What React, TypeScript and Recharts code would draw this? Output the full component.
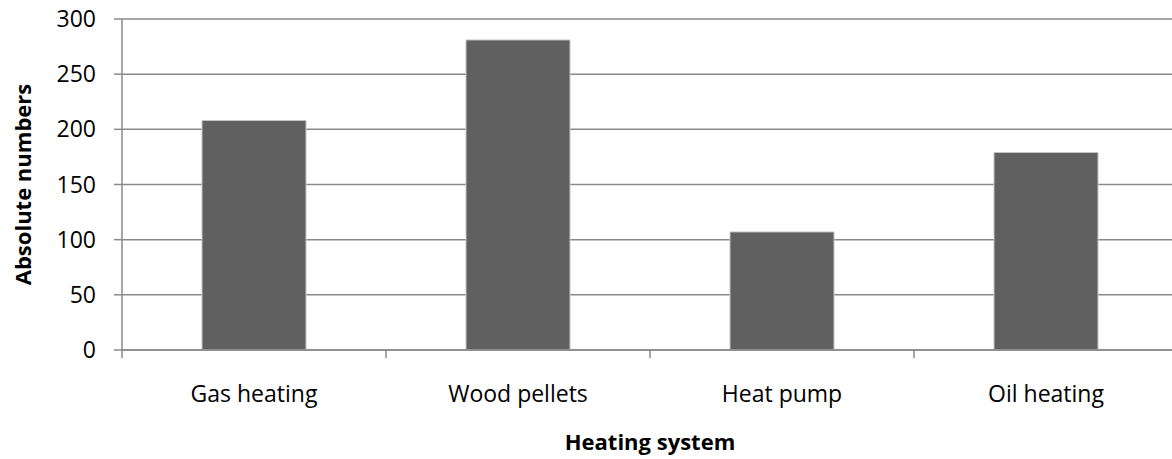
import { BarChart, Bar, XAxis, YAxis, CartesianGrid, Label } from 'recharts';

// Values
const systems = ['Gas heating', 'Wood pellets', 'Heat pump', 'Oil heating'];
const counts = [208, 281, 107, 179];
const yTicks = [0, 50, 100, 150, 200, 250, 300];

const data = systems.map((name, i) => ({ name, count: counts[i] }));

const FONT = '"Open Sans", sans-serif';
const AXIS_GREY = '#8a8a8a';

const CHART_W = 1180;
const CHART_H = 459;
const PLOT_LEFT = 122;
const PLOT_RIGHT_MARGIN = 2;
const BAND = (CHART_W - PLOT_LEFT - PLOT_RIGHT_MARGIN) / systems.length;

// Category tick: label under the centre, tick mark on the left boundary of the band
const CategoryTick = ({ x, y, payload }: any) => (
  <g>
    <line x1={x - BAND / 2} y1={y} x2={x - BAND / 2} y2={y + 8} stroke={AXIS_GREY} strokeWidth={1.5} />
    <text x={x} y={y + 52} textAnchor="middle" fontSize={23} fontFamily={FONT} fill="#000">
      {payload.value}
    </text>
  </g>
);

const App = () => {
  return (
    <div style={{ position: 'absolute', left: 0, top: 0, width: 1172, height: 459, overflow: 'hidden', background: '#fff' }}>
      <BarChart
        width={CHART_W}
        height={CHART_H}
        data={data}
        margin={{ top: 19, right: PLOT_RIGHT_MARGIN, left: 0, bottom: 0 }}
        barCategoryGap={80}
      >
        <CartesianGrid vertical={false} stroke={AXIS_GREY} strokeWidth={1.5} />
        <XAxis
          dataKey="name"
          height={109}
          axisLine={{ stroke: AXIS_GREY, strokeWidth: 1.5 }}
          tickLine={false}
          tickSize={0}
          tickMargin={0}
          interval={0}
          tick={<CategoryTick />}
        >
          <Label
            content={({ viewBox }: any) => (
              <text
                x={viewBox.x + viewBox.width / 2}
                y={viewBox.y + 100}
                textAnchor="middle"
                fontSize={22}
                fontWeight="bold"
                fontFamily={FONT}
                fill="#000"
              >
                Heating system
              </text>
            )}
          />
        </XAxis>
        <YAxis
          width={PLOT_LEFT}
          domain={[0, 300]}
          ticks={yTicks}
          interval={0}
          axisLine={{ stroke: AXIS_GREY, strokeWidth: 1.5 }}
          tickLine={{ stroke: AXIS_GREY, strokeWidth: 1.5 }}
          tickSize={8}
          tickMargin={18}
          tick={{ fontSize: 23, fontFamily: FONT, fill: '#000' }}
        >
          <Label
            content={({ viewBox }: any) => {
              const cx = 22;
              const cy = viewBox.y + viewBox.height / 2;
              return (
                <text
                  x={cx}
                  y={cy}
                  transform={`rotate(-90 ${cx} ${cy})`}
                  textAnchor="middle"
                  dominantBaseline="central"
                  fontSize={22}
                  fontWeight="bold"
                  fontFamily={FONT}
                  fill="#000"
                >
                  Absolute numbers
                </text>
              );
            }}
          />
        </YAxis>
        <Bar dataKey="count" fill="#606060" stroke="#c4c4c4" strokeWidth={1} isAnimationActive={false} />
      </BarChart>
    </div>
  );
};

export default App;
